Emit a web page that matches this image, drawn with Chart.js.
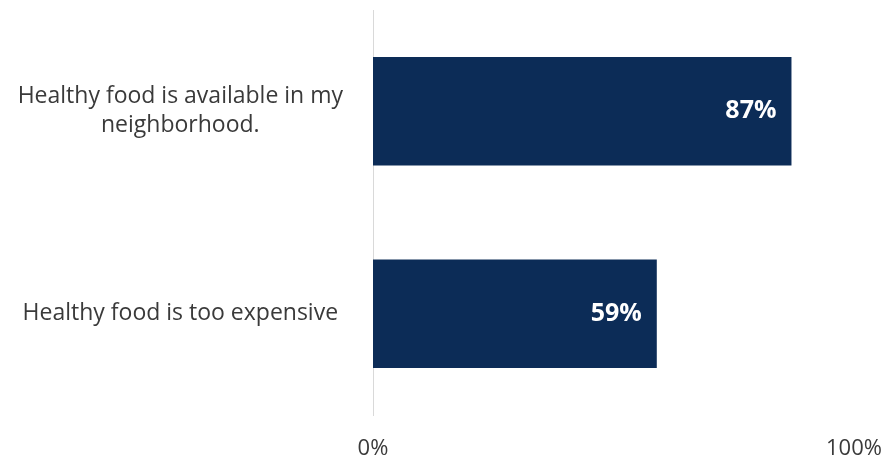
<!DOCTYPE html>
<html>
<head>
<meta charset="utf-8">
<script src="https://cdn.jsdelivr.net/npm/chart.js@4"></script>
<style>
    html, body { margin: 0; padding: 0; background: #fff; }
    #wrap { width: 887px; height: 459px; }
</style>
</head>
<body>
<div id="wrap"><canvas id="chart_food"></canvas></div>
<script>
var categories = [
    ['Healthy food is available in my', 'neighborhood.'],
    'Healthy food is too expensive'
];
var agreeValues = [87, 59];
var tickValues = [0, 100];

var BAR_COLOR = '#0c2c57';
var TEXT_COLOR = '#3a3a3a';
var FONT = "'Open Sans', 'Liberation Sans', sans-serif";

// white percent labels at the inner end of each bar
var valueLabels = {
    id: 'valueLabels',
    afterDatasetsDraw: function (chart) {
        var ctx = chart.ctx;
        var meta = chart.getDatasetMeta(0);
        ctx.save();
        ctx.fillStyle = '#ffffff';
        ctx.font = 'bold 25px ' + FONT;
        ctx.textAlign = 'right';
        ctx.textBaseline = 'middle';
        meta.data.forEach(function (bar, i) {
            ctx.fillText(agreeValues[i] + '%', bar.x - 15, bar.y);
        });
        ctx.restore();
    }
};

var ctf = document.getElementById('chart_food');
var foodChart = new Chart(ctf, {
    type: 'bar',
    data: {
        labels: categories,
        datasets: [
            {
                label: 'Agree',
                data: agreeValues,
                backgroundColor: BAR_COLOR,
                borderWidth: 0,
                categoryPercentage: 1.0,
                barPercentage: 0.535
            }
        ]
    },
    options: {
        indexAxis: 'y',
        responsive: true,
        maintainAspectRatio: false,
        animation: false,
        layout: {
            padding: { top: 10, right: 33, bottom: 0, left: 0 }
        },
        plugins: {
            legend: { display: false },
            tooltip: { enabled: false }
        },
        scales: {
            x: {
                min: 0,
                max: 100,
                grid: { display: false },
                border: { display: false },
                afterBuildTicks: function (scale) {
                    scale.ticks = tickValues.map(function (v) { return { value: v }; });
                },
                afterFit: function (scale) {
                    // fixed band under the plot, labels may overhang the sides
                    scale.height = 44;
                    scale.paddingLeft = 0;
                    scale.paddingRight = 0;
                },
                ticks: {
                    padding: 13,
                    minRotation: 0,
                    maxRotation: 0,
                    color: TEXT_COLOR,
                    font: { family: FONT, size: 22 },
                    callback: function (value) { return value + '%'; }
                }
            },
            y: {
                grid: { display: false },
                border: { display: true, color: '#d9d9d9', width: 1 },
                afterFit: function (scale) {
                    scale.width = 373;
                    scale.paddingTop = 0;
                    scale.paddingBottom = 0;
                },
                ticks: {
                    crossAlign: 'center',
                    padding: 22,
                    color: TEXT_COLOR,
                    font: { family: FONT, size: 23, lineHeight: 1.25 }
                }
            }
        }
    },
    plugins: [valueLabels]
});
</script>
</body>
</html>
